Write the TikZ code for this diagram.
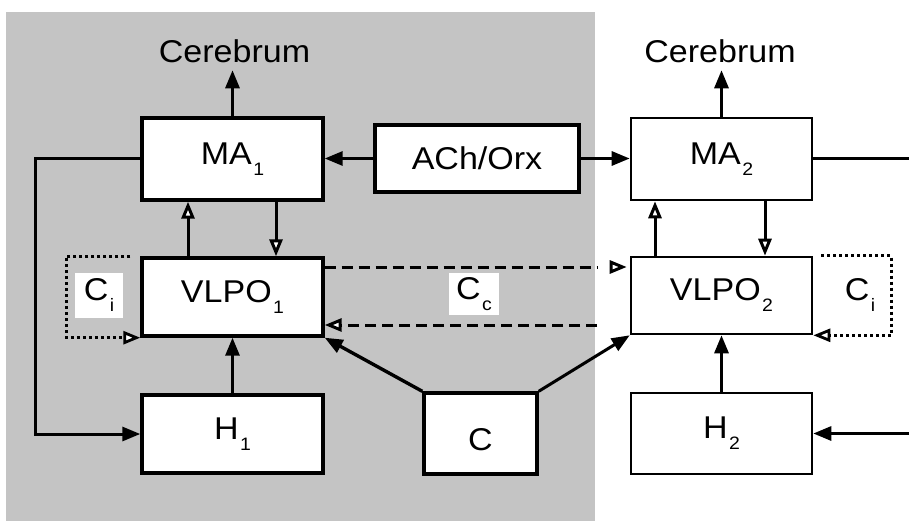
\documentclass[tikz,border=0pt]{standalone}
\usepackage{fontspec}
\setmainfont{Liberation Sans}[FakeStretch=1.08]
\usetikzlibrary{arrows.meta}
\newcommand\lowidx[1]{\kern1.5pt\raisebox{-11pt}{\fontsize{18pt}{18pt}\selectfont #1}}
\newcommand\bigfont{\fontsize{31.5pt}{36pt}\selectfont}
\definecolor{bggray}{gray}{0.77}
\begin{document}
\begin{tikzpicture}[x=1pt,y=-1pt,
  boxL/.style={draw, line width=3.4pt, fill=white, minimum width=181pt, minimum height=80pt, inner sep=0pt, font=\bigfont},
  boxR/.style={boxL, line width=2.6pt},
  conn/.style={line width=3pt},
  fa/.style={-{Triangle[length=18pt,width=14pt]}},
  oa/.style={-{Triangle[length=17pt,width=13pt,fill=white]}},
  dashline/.style={line width=3pt, dash pattern=on 11pt off 6pt},
  dotline/.style={line width=2.8pt, dash pattern=on 3pt off 3pt},
  lbl/.style={font=\bigfont, inner sep=0pt},
]
\useasboundingbox (0,0) rectangle (909,521);
\fill[bggray] (6,12) rectangle (595,521);

% boxes
\node[boxL, minimum height=82pt] (ma1) at (232.5,159) {MA\lowidx{1}};
\node[boxL, minimum width=204pt, minimum height=67pt] (ach) at (477,158.5) {ACh/Orx};
\node[boxR, minimum height=82pt] (ma2) at (721.5,159) {MA\lowidx{2}};
\node[boxL, minimum height=78pt] (v1) at (232.5,297) {VLPO\lowidx{1}};
\node[boxR, minimum height=77pt] (v2) at (721.5,295.5) {VLPO\lowidx{2}};
\node[boxL, minimum height=78pt] (h1) at (232.5,434) {H\lowidx{1}};
\node[boxL, minimum width=113pt, minimum height=81pt, text height=34pt, text depth=0pt] (c) at (480.5,433.5) {C};
\node[boxR, minimum height=81pt] (h2) at (721.5,433.5) {H\lowidx{2}};

% labels
\node[lbl] (cer1) at (234.5,51.5) {Cerebrum};
\node[lbl] (cer2) at (720,51.5) {Cerebrum};
\node[lbl, fill=white, minimum width=48pt, minimum height=45pt] (ci1) at (99,295.5) {C\lowidx{i}};
\node[lbl, fill=white, minimum width=50pt, minimum height=42pt] (cc) at (474,294) {C\lowidx{c}};
\node[lbl] (ci2) at (860,295) {C\lowidx{i}};

% coordinates at the picture edges / gray edge
\coordinate (eR1) at (909,159);
\coordinate (eR2) at (909,433.5);
\coordinate (gA) at (597,267);
\coordinate (gB) at (614,267);
\coordinate (gC) at (597,325);

% connectors
\draw[conn,fa,shorten >=7pt] (ma1.north) -- (ma1.north |- cer1.south);
\draw[conn,fa,shorten >=7pt] (ma2.north) -- (ma2.north |- cer2.south);
\draw[conn,fa] (ach.west) -- (ach.west -| ma1.east);
\draw[conn,fa] (ach.east) -- (ach.east -| ma2.west);
\draw[conn,fa] (ma1.west) -- ++(-105,0) |- (h1.west);
\draw[conn] (ma2.east) -- (eR1);
\draw[conn,fa] (eR2) -- (h2.east);

\draw[conn,oa] ([xshift=-44.5pt]v1.north) -- ([xshift=-44.5pt]ma1.south);
\draw[conn,oa] ([xshift=43.5pt]ma1.south) -- ([xshift=43.5pt]v1.north);
\draw[conn,oa] ([xshift=-66.5pt]v2.north) -- ([xshift=-66.5pt]ma2.south);
\draw[conn,oa] ([xshift=43.5pt]ma2.south) -- ([xshift=43.5pt]v2.north);

\draw[conn,fa] (h1.north) -- (v1.south);
\draw[conn,fa] (h2.north) -- (v2.south);

\draw[line width=3.4pt,fa] (c.north west) -- (v1.south east);
\draw[line width=3pt,fa] (c.north east) -- (v2.south west);

\draw[dashline] (v1.east |- gA) -- (gA);
\draw[conn,oa,shorten >=3pt] (gB) -- (v2.west |- gB);
\draw[dashline,oa] (gC) -- (v1.east |- gC);

\draw[dotline,oa] ([xshift=-10pt]v1.north west) -- ++(-64,0) |- (v1.south west);
\draw[dotline,oa] ([xshift=8pt]v2.north east) -- ++(70,0) |- (v2.south east);
\end{tikzpicture}
\end{document}
